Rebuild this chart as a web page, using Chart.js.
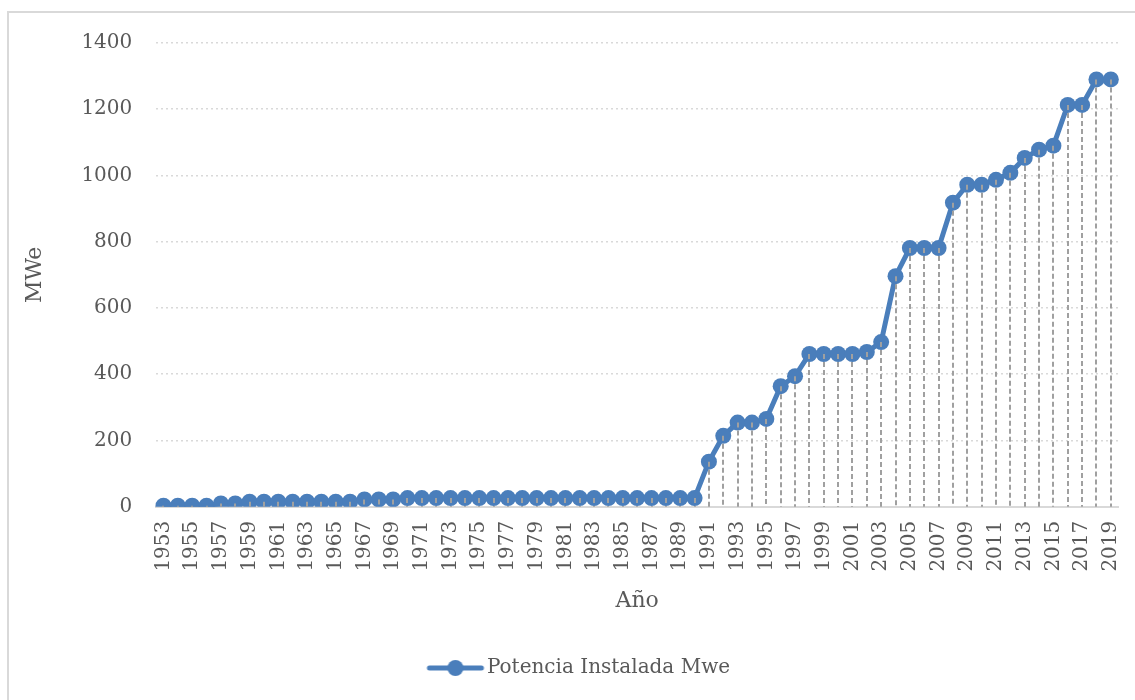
<!DOCTYPE html>
<html>
<head>
<meta charset="utf-8">
<script src="https://cdn.jsdelivr.net/npm/chart.js@4/dist/chart.umd.min.js"></script>
<style>
  html, body { margin: 0; padding: 0; background: #fff; }
  canvas { display: block; }
</style>
</head>
<body>
<canvas id="c" width="1135" height="700"></canvas>
<script>
const years = [];
for (let y = 1953; y <= 2019; y++) years.push(String(y));

const potencia = [
  3, 3, 3, 3, 10, 10,
  15, 15, 15, 15, 15, 15, 15, 15,
  22, 22, 22,
  26, 26, 26, 26, 26, 26, 26, 26, 26, 26, 26, 26, 26, 26, 26, 26, 26, 26, 26, 26, 26,
  136, 214, 254, 254, 265, 364, 394, 461, 461, 461, 461, 467, 497, 696,
  781, 781, 781, 918, 972, 972, 987, 1008, 1053, 1078, 1090, 1213, 1213, 1290, 1290
];

const yTicks = [0, 200, 400, 600, 800, 1000, 1200, 1400];

const seriesName = 'Potencia Instalada Mwe';
const blue = '#4a7ebb';
const txt = '#595959';
const FONT = "'DejaVu Serif', 'Liberation Serif', serif";

// legend marker: line with a circle (transparent margin on the left)
const mk = document.createElement('canvas');
mk.width = 100; mk.height = 18;
(function () {
  const g = mk.getContext('2d');
  g.strokeStyle = blue; g.lineWidth = 5; g.lineCap = 'round';
  g.beginPath(); g.moveTo(38, 9); g.lineTo(90, 9); g.stroke();
  g.fillStyle = blue; g.beginPath(); g.arc(64, 9, 8, 0, Math.PI * 2); g.fill();
})();

const frame = {
  id: 'frame',
  beforeDraw(chart) {
    const c = chart.ctx;
    c.save();
    c.fillStyle = '#fff';
    c.fillRect(0, 0, chart.width, chart.height);
    c.strokeStyle = '#d9d9d9';
    c.lineWidth = 2;
    c.strokeRect(8, 12, chart.width + 10, chart.height + 10);
    c.restore();
  }
};

const dropLines = {
  id: 'dropLines',
  afterDatasetsDraw(chart) {
    const meta = chart.getDatasetMeta(0);
    const yb = chart.scales.y.getPixelForValue(0);
    const c = chart.ctx;
    c.save();
    c.strokeStyle = '#a0a0a0';
    c.lineWidth = 2;
    c.setLineDash([5, 3]);
    meta.data.forEach(p => {
      c.beginPath();
      c.moveTo(Math.round(p.x), p.y);
      c.lineTo(Math.round(p.x), yb);
      c.stroke();
    });
    c.restore();
  }
};

new Chart(document.getElementById('c'), {
  type: 'line',
  data: {
    labels: years,
    datasets: [{
      label: seriesName,
      data: potencia,
      borderColor: blue,
      backgroundColor: blue,
      borderWidth: 5,
      pointRadius: 8,
      pointHoverRadius: 8,
      pointBackgroundColor: blue,
      pointBorderWidth: 0,
      pointStyle: 'circle',
      tension: 0,
      fill: false
    }]
  },
  options: {
    responsive: false,
    animation: false,
    events: [],
    layout: { padding: { left: 18, right: 17, top: 43, bottom: 12 } },
    plugins: {
      tooltip: { enabled: false },
      legend: {
        position: 'bottom',
        labels: {
          usePointStyle: true,
          pointStyleWidth: 71,
          color: txt,
          font: { family: FONT, size: 20 },
          padding: 14,
          generateLabels(chart) {
            return [{
              text: seriesName,
              pointStyle: mk,
              fillStyle: blue,
              strokeStyle: blue,
              lineWidth: 0,
              fontColor: txt,
              datasetIndex: 0,
              hidden: false
            }];
          }
        }
      }
    },
    scales: {
      x: {
        type: 'category',
        offset: true,
        afterFit(scale) { scale.paddingRight = 0; scale.paddingLeft = 0; },
        grid: { display: false },
        border: { display: true, color: '#d9d9d9', width: 2 },
        ticks: {
          autoSkip: false,
          minRotation: 90,
          maxRotation: 90,
          color: txt,
          font: { family: FONT, size: 20 },
          padding: 6,
          callback(v, i) { return i % 2 === 0 ? years[i] : ''; }
        },
        title: {
          display: true,
          text: 'Año',
          color: txt,
          font: { family: FONT, size: 22 },
          padding: { top: 10, bottom: 30 }
        }
      },
      y: {
        min: 0,
        max: 1400,
        afterBuildTicks(scale) { scale.ticks = yTicks.map(v => ({ value: v })); },
        grid: { color: '#d9d9d9', lineWidth: 1.5, drawTicks: false },
        border: { display: false, dash: [2, 3] },
        ticks: {
          color: txt,
          font: { family: FONT, size: 20 },
          padding: 24,
          callback(v) { return String(v); }
        },
        title: {
          display: true,
          text: 'MWe',
          color: txt,
          font: { family: FONT, size: 22 },
          padding: { bottom: 9 }
        }
      }
    }
  },
  plugins: [frame, dropLines]
});
</script>
</body>
</html>
